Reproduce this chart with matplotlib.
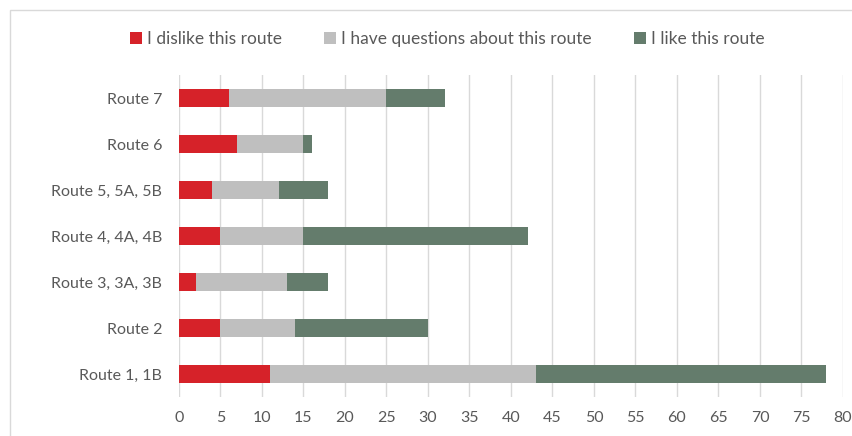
import matplotlib.pyplot as plt
import numpy as np

routes = ["Route 1, 1B", "Route 2", "Route 3, 3A, 3B", "Route 4, 4A, 4B",
          "Route 5, 5A, 5B", "Route 6", "Route 7"]
dislike = [11, 5, 2, 5, 4, 7, 6]
questions = [32, 9, 11, 10, 8, 8, 19]
like = [35, 16, 5, 27, 6, 1, 7]

series = [("I dislike this route", dislike, "#d62229"),
          ("I have questions about this route", questions, "#bfbfbf"),
          ("I like this route", like, "#647c6c")]

plt.rcParams['font.family'] = ['Lato', 'DejaVu Sans']
text_color = "#595959"

fig = plt.figure(figsize=(8.52, 4.36), dpi=100)
ax = fig.add_axes([0.21, 0.089, 0.7794, 0.739])

y = np.arange(len(routes))
left = np.zeros(len(routes))
for name, vals, color in series:
    ax.barh(y, vals, left=left, height=0.39, color=color, label=name, zorder=3)
    left += np.array(vals)

ax.set_xlim(0, 80)
ax.set_ylim(-0.5, len(routes) - 0.5)
ax.set_xticks(range(0, 81, 5))
ax.set_yticks(y)
ax.set_yticklabels(routes)
ax.grid(axis="x", color="#d9d9d9", linewidth=1, zorder=0)
for s in ax.spines.values():
    s.set_visible(False)
ax.tick_params(length=0, labelsize=11.5, colors=text_color, pad=10)
ax.tick_params(axis="y", pad=12)

fig.legend(loc="upper center", bbox_to_anchor=(0.525, 0.965), ncol=3, frameon=False,
           fontsize=12.5, labelcolor=text_color, handlelength=0.7, handleheight=0.7,
           handletextpad=0.3, columnspacing=2.4)

# outer chart border
fig.patches.append(plt.Rectangle((0.012, -0.1), 1.1, 1.077, transform=fig.transFigure,
                                 fill=False, edgecolor="#d9d9d9", linewidth=1))

fig.savefig("out.png", dpi=100)
